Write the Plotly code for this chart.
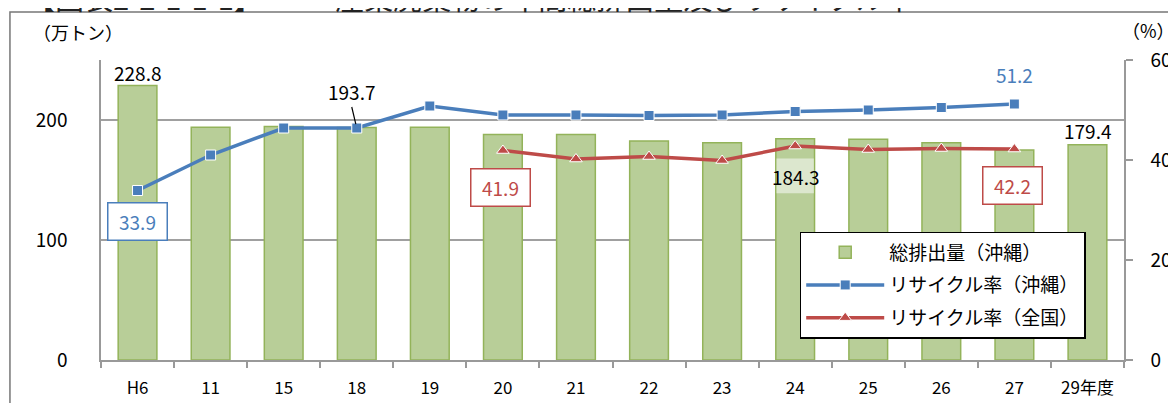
import plotly.graph_objects as go

categories = ["H6", "11", "15", "18", "19", "20", "21", "22", "23", "24", "25", "26", "27", "29年度"]
total_okinawa = [228.8, 194.0, 194.5, 193.7, 194.0, 188.0, 188.0, 182.5, 181.0, 184.3, 184.0, 181.0, 175.0, 179.4]
recycle_okinawa = [33.9, 41.0, 46.4, 46.4, 50.8, 49.0, 49.0, 48.9, 49.0, 49.7, 50.0, 50.5, 51.2, None]
recycle_national = [None, None, None, None, None, 41.9, 40.2, 40.7, 39.9, 42.8, 42.1, 42.3, 42.2, None]

names = ["総排出量（沖縄）", "リサイクル率（沖縄）", "リサイクル率（全国）"]

FONT = "Noto Sans CJK JP"
GREEN = "#B8CE98"
GREEN_EDGE = "#93B35A"
BLUE = "#4A7EBB"
RED = "#BE4B48"

fig = go.Figure()
fig.add_trace(go.Bar(
    x=categories, y=total_okinawa, name=names[0],
    marker=dict(color=GREEN, line=dict(color=GREEN_EDGE, width=1.5)),
    legendgroup="a", yaxis="y",
))
fig.add_trace(go.Scatter(
    x=categories, y=recycle_okinawa, name=names[1], yaxis="y2",
    mode="lines+markers",
    line=dict(color=BLUE, width=3.5),
    marker=dict(symbol="square", size=10, color=BLUE, line=dict(color="white", width=1)),
    legendgroup="b",
))
fig.add_trace(go.Scatter(
    x=categories, y=recycle_national, name=names[2], yaxis="y2",
    mode="lines+markers",
    line=dict(color=RED, width=3.5),
    marker=dict(symbol="triangle-up", size=11, color=RED, line=dict(color="white", width=1)),
    legendgroup="c",
))

idx = {c: i for i, c in enumerate(categories)}

# background hatch-like patch behind 184.3 label
i24 = idx["24"]
fig.add_shape(type="rect", xref="x", yref="y", x0=i24 - 0.255, x1=i24 + 0.255, y0=139, y1=168,
              fillcolor="#DCE7CE", line=dict(width=0), layer="above")

ann = []
def txt(cat, y, s, color="black", yref="y", xshift=0, yshift=0, box=None):
    d = dict(x=idx[cat], y=y, xref="x", yref=yref, text=s, showarrow=False,
             font=dict(family=FONT, size=19, color=color),
             xshift=xshift, yshift=yshift)
    if box:
        d.update(bordercolor=box, borderwidth=1.5, bgcolor="white", borderpad=5,
                 width=48, height=26)
    ann.append(d)

txt("H6", total_okinawa[0], "228.8", yshift=13)
txt("29年度", total_okinawa[13], "179.4", yshift=14)
txt("24", total_okinawa[9], "184.3", yshift=-38)
txt("27", recycle_okinawa[12], "51.2", color=BLUE, yref="y2", yshift=30)
txt("H6", recycle_okinawa[0], "33.9", color=BLUE, yref="y2", yshift=-31, box=BLUE)
txt("20", recycle_national[5], "41.9", color=RED, yref="y2", xshift=-2, yshift=-37, box=RED)
txt("27", recycle_national[12], "42.2", color=RED, yref="y2", xshift=-2, yshift=-36, box=RED)
# 193.7 with leader line
ann.append(dict(x=idx["18"], y=recycle_okinawa[3], xref="x", yref="y2", text="193.7",
                showarrow=True, arrowhead=0, arrowwidth=1.2, arrowcolor="black",
                ax=-5, ay=-21, standoff=4,
                font=dict(family=FONT, size=19, color="black"), yanchor="bottom"))

# axis unit labels and title (clipped at top, as in the source image)
ann.append(dict(x=-0.068, y=1.095, xref="paper", yref="paper", text="（万トン）", showarrow=False,
                font=dict(family=FONT, size=18, color="black"), xanchor="left", yanchor="middle"))
ann.append(dict(x=1.052, y=1.1, xref="paper", yref="paper", text="（%）", showarrow=False,
                font=dict(family=FONT, size=18, color="black"), xanchor="right", yanchor="middle"))
ann.append(dict(x=-0.075, y=1.21, xref="paper", yref="paper",
                text="【図表2-2-1-1-1】　―　産業廃棄物の年間総排出量及びリサイクル率", showarrow=False,
                font=dict(family=FONT, size=29, color="#222"), xanchor="left", yanchor="middle"))

# outer frame
fig.add_shape(type="rect", xref="paper", yref="paper", x0=-0.089, x1=1.2, y0=-0.3, y1=1.16,
              line=dict(color="#777", width=1.5), fillcolor="rgba(0,0,0,0)", layer="below")

fig.update_layout(
    width=1176, height=403,
    margin=dict(l=93, r=55, t=52, b=51),
    paper_bgcolor="white", plot_bgcolor="white",
    font=dict(family=FONT, size=17, color="black"),
    bargap=0.47,
    showlegend=True,
    annotations=ann,
    legend=dict(x=0.683, y=0.427, xanchor="left", yanchor="top",
                bgcolor="white", bordercolor="black", borderwidth=1.5,
                font=dict(family=FONT, size=19, color="black"),
                itemwidth=78, traceorder="grouped", tracegroupgap=5),
    xaxis=dict(type="category", range=[-0.5, len(categories) - 0.5], autorange=False,
               showline=True, linecolor="#999", linewidth=1.5,
               ticks="outside", tickson="boundaries", ticklen=6, tickcolor="#999",
               tickwidth=1.5, showgrid=False, ticklabelstandoff=12, tickangle=0,
               tickfont=dict(family=FONT, size=17)),
    yaxis=dict(range=[0, 250], tickvals=[0, 100, 200], showgrid=True, gridcolor="#A0A0A0",
               gridwidth=1.5, showline=True, linecolor="#999", linewidth=1.5,
               ticks="", ticklabelstandoff=28, zeroline=False,
               tickfont=dict(family=FONT, size=19)),
    yaxis2=dict(range=[0, 60], tickvals=[0, 20, 40, 60], overlaying="y", side="right",
                showgrid=False, showline=True, linecolor="#999", linewidth=1.5,
                ticks="outside", ticklen=7, tickcolor="#999", tickwidth=1.5,
                ticklabelstandoff=14, zeroline=False,
                tickfont=dict(family=FONT, size=19)),
)

fig.write_html("out.html")
